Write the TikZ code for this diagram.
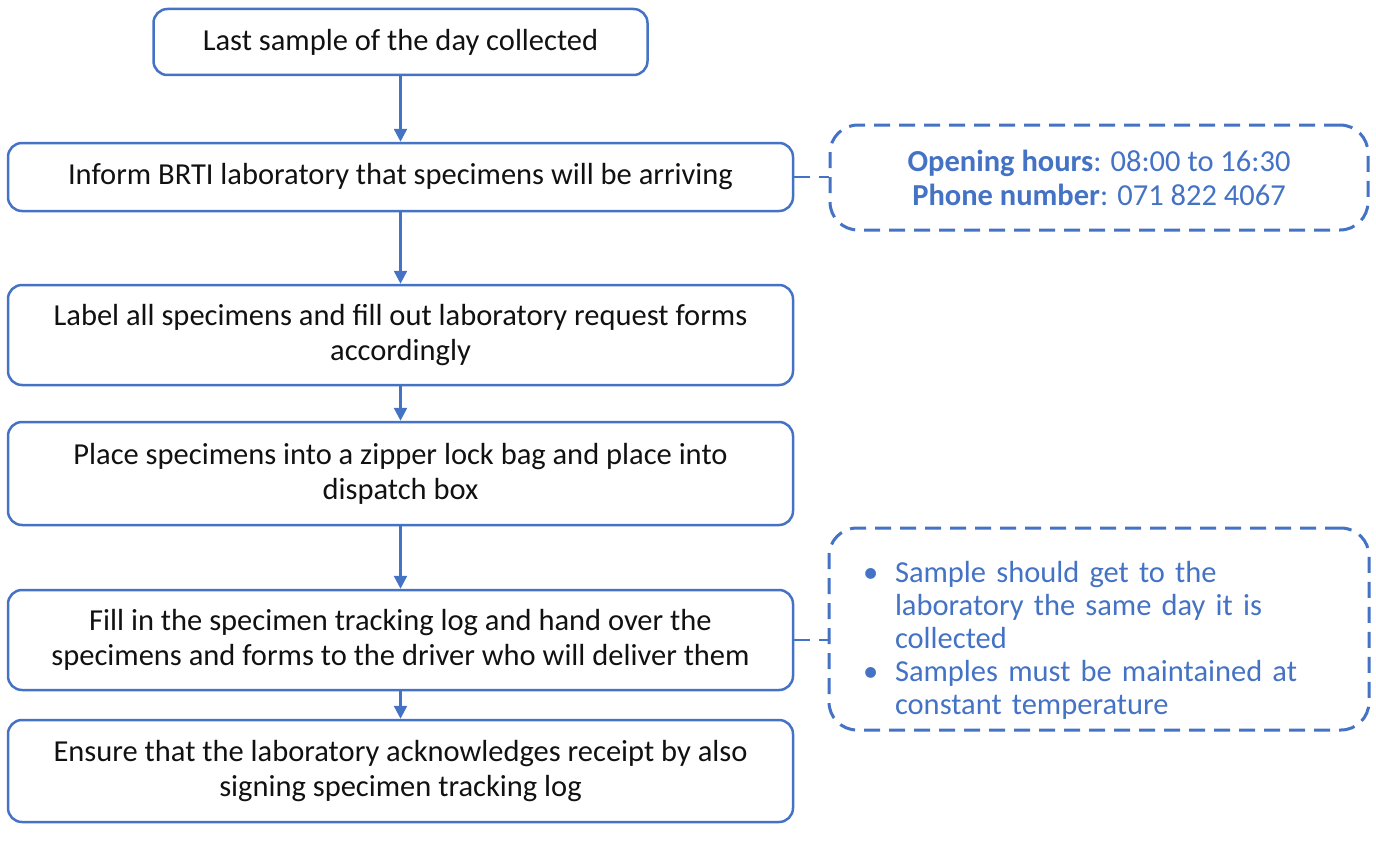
\documentclass[tikz,border=0pt]{standalone}
\usepackage{fontspec}
\setmainfont{Carlito}
\usetikzlibrary{arrows.meta}
\definecolor{ob}{HTML}{4472C4}
\definecolor{tx}{HTML}{111111}
\begin{document}
\begin{tikzpicture}[x=1pt,y=-1pt,
  box/.style={draw=ob, line width=2.5pt, rounded corners=14pt, align=center,
    font=\fontsize{30.5}{35}\selectfont, inner sep=0pt, text=tx, minimum width=785pt},
  note/.style={draw=ob, line width=3pt, dash pattern=on 16pt off 9pt, rounded corners=28pt,
    text=ob, inner sep=0pt},
  arr/.style={draw=ob, line width=2.5pt, -{Triangle[length=13pt,width=13pt]}},
  link/.style={draw=ob, line width=2.5pt, dash pattern=on 16pt off 9pt}]
\useasboundingbox (0,0) rectangle (1376,843);
\node[box, minimum width=494pt, minimum height=66pt] (b1) at (400.5,42) {Last sample of the day collected};
\node[box, minimum height=68pt] (b2) at (400.5,177) {Inform BRTI laboratory that specimens will be arriving};
\node[box, minimum height=100pt] (b3) at (400.5,335) {Label all specimens and fill out laboratory request forms\\accordingly};
\node[box, minimum height=103pt] (b4) at (400.5,473.5) {Place specimens into a zipper lock bag and place into\\dispatch box};
\node[box, minimum height=100pt] (b5) at (400.5,640) {Fill in the specimen tracking log and hand over the\\specimens and forms to the driver who will deliver them};
\node[box, minimum height=102pt] (b6) at (400.5,771) {Ensure that the laboratory acknowledges receipt by also\\signing specimen tracking log};
\node[note, minimum width=538pt, minimum height=105pt, align=center,
  font=\fontsize{30.5}{34}\selectfont] (d1) at (1099,177.5)
  {\rule{0pt}{0pt}\textbf{Opening hours}: 08:00 to 16:30\\\textbf{Phone number}: 071 822 4067};
\node[note, minimum width=540pt, minimum height=202pt, align=left, text width=500pt,
  font=\fontsize{30.5}{33}\selectfont] (d2) at (1099,629)
  {\rule{0pt}{44pt}\hspace*{14pt}\makebox[32pt][l]{\textbullet}Sample should get to the\\
   \hspace*{46pt}laboratory the same day it is\\
   \hspace*{46pt}collected\\
   \hspace*{14pt}\makebox[32pt][l]{\textbullet}Samples must be maintained at\\
   \hspace*{46pt}constant temperature};
\draw[arr] (b1) -- (b2);
\draw[arr] (b2) -- (b3);
\draw[arr] (b3) -- (b4);
\draw[arr] (b4) -- (b5);
\draw[arr] (b5) -- (b6);
\draw[link] (b2.east) -- (d1.west |- b2.east);
\draw[link] (b5.east) -- (d2.west |- b5.east);
\end{tikzpicture}
\end{document}
